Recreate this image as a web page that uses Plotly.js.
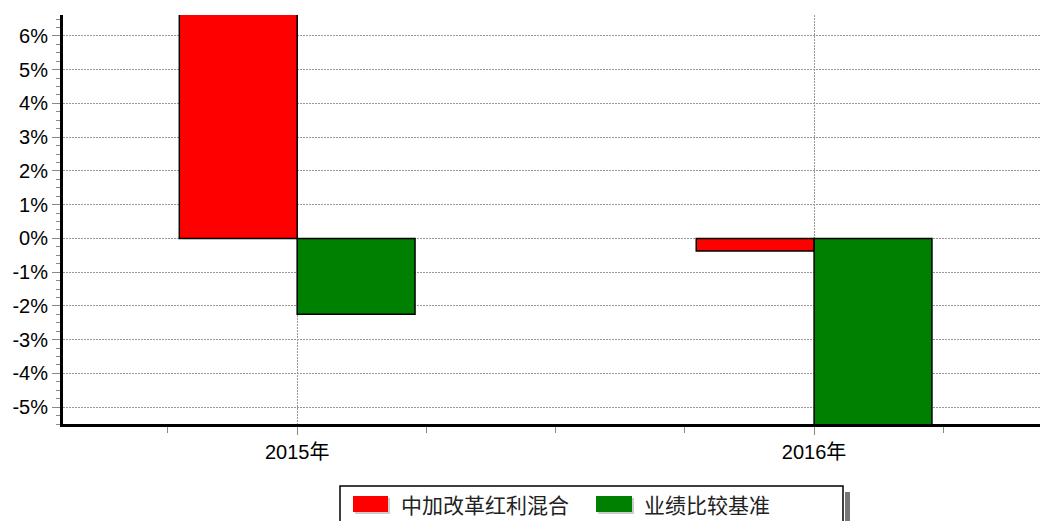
<!DOCTYPE html>
<html>
<head>
<meta charset="utf-8">
<script src="https://cdn.plot.ly/plotly-3.0.1.min.js"></script>
<style>html,body{margin:0;padding:0;background:#fff;}#chart{width:1040px;height:521px;}</style>
</head>
<body>
<div id="chart"></div>
<script>
// ---- data ----
const years = [2015, 2016];
const seriesNames = ['中加改革红利混合', '业绩比较基准'];
const fundReturns = [8.6, -0.37];      // % (2015 value exceeds visible range)
const benchReturns = [-2.25, -6.9];    // % (2016 value exceeds visible range)
const seriesColors = ['#ff0000', '#008000'];
const yTickVals = [-5, -4, -3, -2, -1, 0, 1, 2, 3, 4, 5, 6];
const yTickText = ['-5%', '-4%', '-3%', '-2%', '-1%', '0%', '1%', '2%', '3%', '4%', '5%', '6%'];

// ---- layout geometry helpers (pixel -> paper) ----
const W = 1040, H = 521, ML = 63, MR = 0, MT = 15, MB = 97;
const PW = W - ML - MR, PH = H - MT - MB;
const px = x => (x - ML) / PW;
const py = y => (H - MB - y) / PH;

const traces = [
  {type: 'bar', x: years, y: fundReturns, name: seriesNames[0], width: 0.228, offset: -0.228,
   marker: {color: seriesColors[0], line: {color: '#000', width: 1.5}}, showlegend: false, hoverinfo: 'skip'},
  {type: 'bar', x: years, y: benchReturns, name: seriesNames[1], width: 0.228, offset: 0,
   marker: {color: seriesColors[1], line: {color: '#000', width: 1.5}}, showlegend: false, hoverinfo: 'skip'}
];

const tickFont = {family: 'Liberation Sans, Arial, Noto Sans CJK SC', size: 20, color: '#000'};

const shapes = [
  // legend shadow
  {type: 'rect', xref: 'paper', yref: 'paper', x0: px(845), x1: px(850), y0: py(530), y1: py(492),
   fillcolor: '#777', line: {width: 0}, layer: 'above'},
  // legend box
  {type: 'rect', xref: 'paper', yref: 'paper', x0: px(340), x1: px(843), y0: py(530), y1: py(486),
   fillcolor: '#fff', line: {color: '#000', width: 1.5}, layer: 'above'},
  // swatch shadows
  {type: 'rect', xref: 'paper', yref: 'paper', x0: px(355), x1: px(390), y0: py(514), y1: py(498),
   fillcolor: '#ccc', line: {width: 0}, layer: 'above'},
  {type: 'rect', xref: 'paper', yref: 'paper', x0: px(598), x1: px(634), y0: py(514), y1: py(498),
   fillcolor: '#ccc', line: {width: 0}, layer: 'above'},
  // swatches
  {type: 'rect', xref: 'paper', yref: 'paper', x0: px(353), x1: px(388), y0: py(512), y1: py(496),
   fillcolor: seriesColors[0], line: {width: 0}, layer: 'above'},
  {type: 'rect', xref: 'paper', yref: 'paper', x0: px(596), x1: px(632), y0: py(512), y1: py(496),
   fillcolor: seriesColors[1], line: {width: 0}, layer: 'above'}
];

const legendFont = {family: 'Noto Sans CJK SC', size: 21, color: '#222'};
const annotations = [
  {xref: 'paper', yref: 'paper', x: px(399), y: py(504), xanchor: 'left', yanchor: 'middle',
   text: seriesNames[0], showarrow: false, font: legendFont},
  {xref: 'paper', yref: 'paper', x: px(642), y: py(504), xanchor: 'left', yanchor: 'middle',
   text: seriesNames[1], showarrow: false, font: legendFont}
];

const layout = {
  width: W, height: H,
  margin: {l: ML, r: MR, t: MT, b: MB, pad: 0},
  paper_bgcolor: '#fff', plot_bgcolor: '#fff',
  showlegend: false,
  xaxis: {
    type: 'linear', range: [2014.547, 2016.437],
    tickmode: 'linear', tick0: 2015, dtick: 1, ticksuffix: '年', tickformat: 'd',
    ticks: 'outside', ticklen: 8, tickwidth: 1, tickcolor: '#888',
    minor: {dtick: 0.25, tick0: 2015, ticks: 'outside', ticklen: 6, tickwidth: 1, tickcolor: '#888', showgrid: false},
    showgrid: true, gridcolor: '#999', griddash: '2px,1px', gridwidth: 1,
    showline: true, linecolor: '#000', linewidth: 3,
    zeroline: false, tickfont: tickFont, fixedrange: true
  },
  yaxis: {
    range: [-5.50, 6.62],
    tickmode: 'array', tickvals: yTickVals, ticktext: yTickText,
    ticks: 'outside', ticklen: 8, tickwidth: 1, tickcolor: '#888',
    minor: {tickmode: 'linear', dtick: 0.25, tick0: 0, ticks: 'outside', ticklen: 4, tickwidth: 1, tickcolor: '#888', showgrid: false},
    showgrid: true, gridcolor: '#999', griddash: '2px,1px', gridwidth: 1,
    showline: true, linecolor: '#000', linewidth: 3,
    zeroline: false, tickfont: tickFont, fixedrange: true
  },
  shapes: shapes,
  annotations: annotations
};

Plotly.newPlot('chart', traces, layout, {displayModeBar: false, staticPlot: true});
</script>
</body>
</html>
